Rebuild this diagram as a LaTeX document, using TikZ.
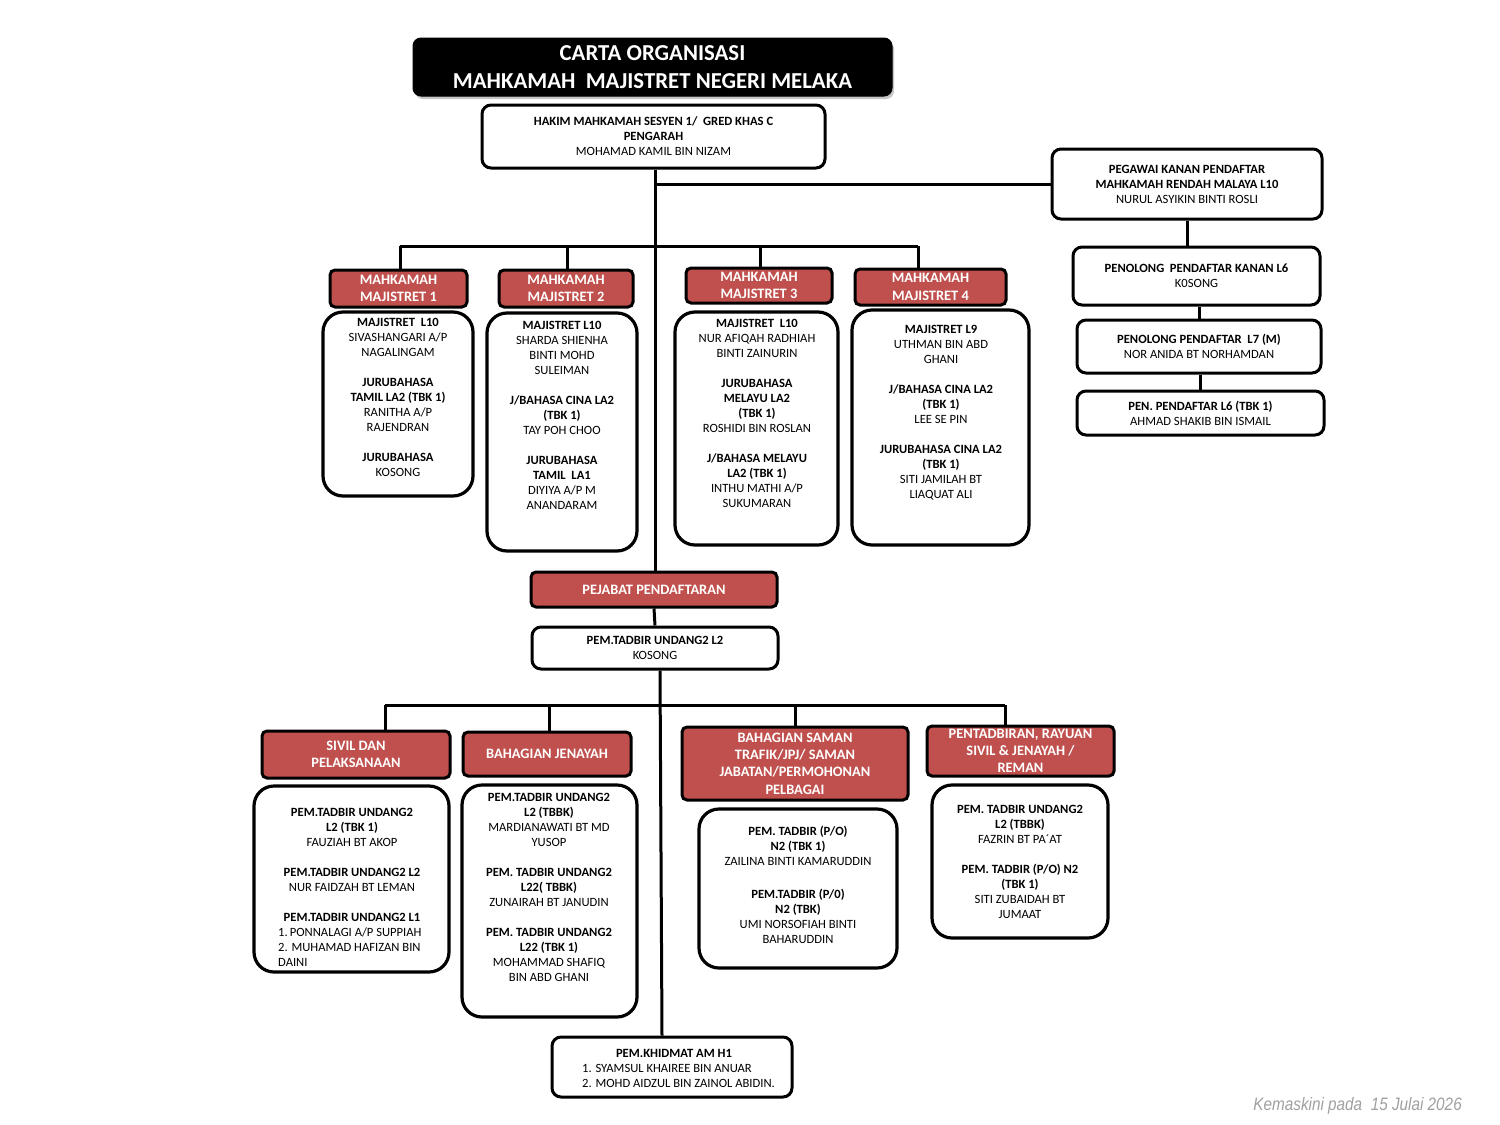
\documentclass[tikz,border=0pt]{standalone}
\usepackage{fontspec}
\setmainfont{Carlito}
\newfontfamily\footfont{Liberation Sans}
\usetikzlibrary{shadows,backgrounds}
\definecolor{hdrred}{RGB}{192,80,77}
\definecolor{footgray}{RGB}{160,160,160}
\newcommand\bx[6]{\node[#6, minimum width={(#4)-(#2)}, minimum height={(#5)-(#3)}] (#1) at ({((#2)+(#4))/2},{((#3)+(#5))/2})}
\newcommand\tx[4]{\node[txt] (#1) at (#2,{(#3)-6}) {\rule{0pt}{10pt}#4};}
\newcommand\gap{\\[15pt]}
\begin{document}
\begin{tikzpicture}[x=1pt,y=-1pt,
  titlebox/.style={draw=black, fill=black, line width=1pt, rounded corners=8pt, text=white,
     font=\bfseries\fontsize{22.8}{28}\selectfont, align=center, inner sep=0,
     drop shadow={shadow xshift=2pt, shadow yshift=-3pt, opacity=0.45}},
  wbox/.style={draw, fill=white, line width=3pt, rounded corners=9pt, align=center, inner sep=0,
     font=\fontsize{12.6}{15}\selectfont},
  bodybox/.style={draw, fill=white, line width=3.2pt, rounded corners=20pt, inner sep=0},
  hdr/.style={draw, fill=hdrred, line width=3pt, rounded corners=5pt, text=white, align=center, inner sep=0,
     font=\bfseries\fontsize{14.4}{17.3}\selectfont},
  txt/.style={anchor=north, inner sep=0, align=center, font=\fontsize{12.6}{15}\selectfont},
  conn/.style={line width=3pt}]
\useasboundingbox (0,0) rectangle (1500,1125);

% title
\bx{title}{413}{38}{892}{96}{titlebox} {CARTA ORGANISASI\\MAHKAMAH\ \ MAJISTRET NEGERI MELAKA};

% top boxes
\bx{hakim}{482}{105}{825}{168}{wbox} {\textbf{HAKIM MAHKAMAH SESYEN 1/\ \ GRED KHAS C}\\\textbf{PENGARAH}\\MOHAMAD KAMIL BIN NIZAM};
\bx{pegawai}{1052}{149}{1322}{219}{wbox} {\textbf{PEGAWAI KANAN PENDAFTAR}\\\textbf{MAHKAMAH RENDAH MALAYA L10}\\NURUL ASYIKIN BINTI ROSLI};
\bx{pk6}{1073}{247}{1320}{305}{wbox} {\textbf{PENOLONG\ \ PENDAFTAR KANAN L6}\\K0SONG};
\bx{pl7}{1077}{320}{1321}{373}{wbox} {\textbf{PENOLONG PENDAFTAR\ \ L7 (M)}\\NOR ANIDA BT NORHAMDAN};
\bx{pl6}{1077}{391}{1324}{435}{wbox} {\textbf{PEN. PENDAFTAR L6 (TBK 1)}\\AHMAD SHAKIB BIN ISMAIL};

% mahkamah headers
\bx{mm1h}{330}{270}{467}{307}{hdr} {MAHKAMAH\\MAJISTRET 1};
\bx{mm2h}{499}{270}{633}{307}{hdr} {MAHKAMAH\\MAJISTRET 2};
\bx{mm3h}{686}{268}{832}{303}{hdr} {MAHKAMAH\\MAJISTRET 3};
\bx{mm4h}{855}{269}{1006}{305}{hdr} {MAHKAMAH\\MAJISTRET 4};

% mahkamah bodies
\bx{mm1b}{323}{312}{473}{496}{bodybox} {};
\bx{mm2b}{487}{313}{637}{551}{bodybox} {};
\bx{mm3b}{675}{312}{838}{545}{bodybox} {};
\bx{mm4b}{852}{310}{1029}{545}{bodybox} {};
\tx{mm1t}{398}{322}{\textbf{MAJISTRET\ \ L10}\\SIVASHANGARI A/P\\NAGALINGAM\gap\textbf{JURUBAHASA}\\\textbf{TAMIL LA2 (TBK 1)}\\RANITHA A/P\\RAJENDRAN\gap\textbf{JURUBAHASA}\\KOSONG}
\tx{mm2t}{562}{325}{\textbf{MAJISTRET L10}\\SHARDA SHIENHA\\BINTI MOHD\\SULEIMAN\gap\textbf{J/BAHASA CINA LA2}\\\textbf{(TBK 1)}\\TAY POH CHOO\gap\textbf{JURUBAHASA}\\\textbf{TAMIL\ \ LA1}\\DIYIYA A/P M\\ANANDARAM}
\tx{mm3t}{757}{323}{\textbf{MAJISTRET\ \ L10}\\NUR AFIQAH RADHIAH\\BINTI ZAINURIN\gap\textbf{JURUBAHASA}\\\textbf{MELAYU LA2}\\\textbf{(TBK 1)}\\ROSHIDI BIN ROSLAN\gap\textbf{J/BAHASA MELAYU}\\\textbf{LA2 (TBK 1)}\\INTHU MATHI A/P\\SUKUMARAN}
\tx{mm4t}{941}{329}{\textbf{MAJISTRET L9}\\UTHMAN BIN ABD\\GHANI\gap\textbf{J/BAHASA CINA LA2}\\\textbf{(TBK 1)}\\LEE SE PIN\gap\textbf{JURUBAHASA CINA LA2}\\\textbf{(TBK 1)}\\SITI JAMILAH BT\\LIAQUAT ALI}

% pendaftaran
\bx{pejabat}{531}{572}{777}{607}{hdr} {PEJABAT PENDAFTARAN};
\bx{pemtadbir}{532}{627}{778}{669}{wbox} {\textbf{PEM.TADBIR UNDANG2 L2}\\KOSONG};

% bahagian headers
\bx{sivh}{262}{731}{450}{778}{hdr} {SIVIL DAN\\PELAKSANAAN};
\bx{jenh}{463}{732}{631}{776}{hdr} {BAHAGIAN JENAYAH};
\bx{samh}{682}{727}{908}{800}{hdr} {BAHAGIAN SAMAN\\TRAFIK/JPJ/ SAMAN\\JABATAN/PERMOHONAN\\PELBAGAI};
\bx{penh}{927}{726}{1114}{776}{hdr} {PENTADBIRAN, RAYUAN\\SIVIL \& JENAYAH /\\REMAN};

% bahagian bodies
\bx{sivb}{254}{786}{449}{972}{bodybox} {};
\bx{jenb}{462}{785}{637}{1017}{bodybox} {};
\bx{samb}{699}{809}{897}{968}{bodybox} {};
\bx{penb}{932}{785}{1108}{938}{bodybox} {};
\tx{sivt}{352}{812}{\textbf{PEM.TADBIR UNDANG2}\\\textbf{L2 (TBK 1)}\\FAUZIAH BT AKOP\gap\textbf{PEM.TADBIR UNDANG2 L2}\\NUR FAIDZAH BT LEMAN\gap\textbf{PEM.TADBIR UNDANG2 L1}}
\node[txt, anchor=north west, align=left] (sivlist) at (278,926) {\rule{0pt}{10pt}1.\,PONNALAGI A/P SUPPIAH\\2. MUHAMAD HAFIZAN BIN\\DAINI};
\tx{jent}{549}{797}{\textbf{PEM.TADBIR UNDANG2}\\\textbf{L2 (TBBK)}\\MARDIANAWATI BT MD\\YUSOP\gap\textbf{PEM. TADBIR UNDANG2}\\\textbf{L22( TBBK)}\\ZUNAIRAH BT JANUDIN\gap\textbf{PEM. TADBIR UNDANG2}\\\textbf{L22 (TBK 1)}\\MOHAMMAD SHAFIQ\\BIN ABD GHANI}
\tx{samt}{798}{831}{\textbf{PEM. TADBIR (P/O)}\\\textbf{N2 (TBK 1)}\\ZAILINA BINTI KAMARUDDIN\\[18pt]\textbf{PEM.TADBIR (P/0)}\\\textbf{N2 (TBK)}\\UMI NORSOFIAH BINTI\\BAHARUDDIN}
\tx{pent}{1020}{809}{\textbf{PEM. TADBIR UNDANG2}\\\textbf{L2 (TBBK)}\\FAZRIN BT PA´AT\gap\textbf{PEM. TADBIR (P/O) N2}\\\textbf{(TBK 1)}\\SITI ZUBAIDAH BT\\JUMAAT}

% khidmat
\bx{khidmat}{552}{1037}{792}{1097}{wbox} {};
\tx{khidt}{674}{1053}{\textbf{PEM.KHIDMAT AM H1}}
\node[txt, anchor=north west, align=left] (khidlist) at (582,1062) {\rule{0pt}{10pt}1. SYAMSUL KHAIREE BIN ANUAR\\2. MOHD AIDZUL BIN ZAINOL ABIDIN.};

% footer
\node[anchor=base east, inner sep=0, text=footgray, font=\footfont\itshape\fontsize{18}{20}\selectfont] (foot) at (1462,1110) {\scalebox{0.85}[1]{Kemaskini pada\ \ 15 Julai 2026}};

% connectors
\begin{scope}[on background layer]
\draw[conn] ([xshift=2pt]hakim.south) -- ([xshift=2pt]hakim.south |- pejabat.north);
\draw[conn] ([xshift=2pt]hakim.south |- pegawai.west) -- (pegawai.west);
\coordinate (d1) at (400,246);
\coordinate (d2) at (567,246);
\coordinate (d3) at (760,246);
\coordinate (d4) at (918,246);
\draw[conn] (d1) -- (d4);
\draw[conn] (d1) -- (d1 |- mm1h.north);
\draw[conn] (d2) -- (d2 |- mm2h.north);
\draw[conn] (d3) -- (d3 |- mm3h.north);
\draw[conn] (d4) -- (d4 |- mm4h.north);
\draw[conn] (pegawai.south) -- (pegawai.south |- pk6.north);
\draw[conn] (pl7.north) -- (pl7.north |- pk6.south);
\draw[conn] (pl6.north) -- (pl6.north |- pl7.south);
\draw[conn] (pejabat.south) -- (pemtadbir.north);
\draw[conn] ([xshift=5pt]pemtadbir.south) -- ([xshift=7pt]pemtadbir.south |- khidmat.north);
\coordinate (e1) at (385,705);
\coordinate (e2) at (549,705);
\coordinate (e3) at (795,705);
\coordinate (e4) at (1005,705);
\draw[conn] (e1) -- (e4);
\draw[conn] (e1) -- (e1 |- sivh.north);
\draw[conn] (e2) -- (e2 |- jenh.north);
\draw[conn] (e3) -- (e3 |- samh.north);
\draw[conn] (e4) -- (e4 |- penh.north);
\end{scope}
\end{tikzpicture}
\end{document}
